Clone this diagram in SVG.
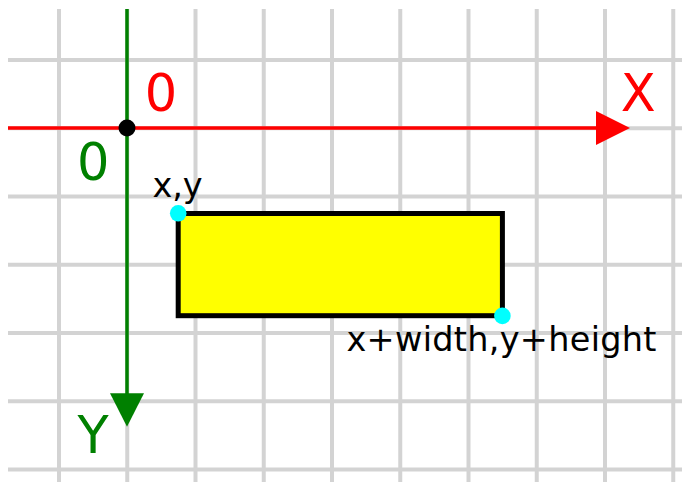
<svg xmlns="http://www.w3.org/2000/svg" width="682" height="482" viewBox="0 0 682 482">
  <style>
    .grid line { stroke: #d3d3d3; stroke-width: 4; }
    .big { font-family: "DejaVu Sans", "Liberation Sans", sans-serif; font-size: 51px; text-anchor: middle; }
    .small { font-family: "DejaVu Sans", "Liberation Sans", sans-serif; font-size: 33.5px; fill: #000; }
  </style>
  <rect x="0" y="0" width="682" height="482" fill="#ffffff"/>
  <g id="grid" class="grid">
    <line x1="59" y1="9" x2="59" y2="482"/>
    <line x1="127.25" y1="9" x2="127.25" y2="482"/>
    <line x1="195.5" y1="9" x2="195.5" y2="482"/>
    <line x1="263.75" y1="9" x2="263.75" y2="482"/>
    <line x1="332" y1="9" x2="332" y2="482"/>
    <line x1="400.25" y1="9" x2="400.25" y2="482"/>
    <line x1="468.5" y1="9" x2="468.5" y2="482"/>
    <line x1="536.75" y1="9" x2="536.75" y2="482"/>
    <line x1="605" y1="9" x2="605" y2="482"/>
    <line x1="673.25" y1="9" x2="673.25" y2="482"/>
    <line x1="8" y1="60" x2="682" y2="60"/>
    <line x1="8" y1="128.25" x2="682" y2="128.25"/>
    <line x1="8" y1="196.5" x2="682" y2="196.5"/>
    <line x1="8" y1="264.75" x2="682" y2="264.75"/>
    <line x1="8" y1="333" x2="682" y2="333"/>
    <line x1="8" y1="401.25" x2="682" y2="401.25"/>
    <line x1="8" y1="469.5" x2="682" y2="469.5"/>
  </g>
  <g id="connectors">
    <g id="x-axis">
      <line x1="8" y1="128" x2="600" y2="128" stroke="#ff0000" stroke-width="3.5"/>
      <polygon points="596,111 630,128 596,145" fill="#ff0000"/>
    </g>
    <g id="y-axis">
      <line x1="127" y1="9" x2="127" y2="397" stroke="#008000" stroke-width="3.5"/>
      <polygon points="110,393.3 144,393.3 127,426.7" fill="#008000"/>
    </g>
  </g>
  <g id="origin">
    <circle cx="127" cy="128" r="8.5" fill="#000000"/>
    <text class="big" x="161" y="110.7" fill="#ff0000">0</text>
    <text class="big" x="93.3" y="180" fill="#008000">0</text>
  </g>
  <g id="x-label">
    <text class="big" x="638.3" y="111" fill="#ff0000">X</text>
  </g>
  <g id="y-label">
    <text class="big" x="93.2" y="452.7" fill="#008000">Y</text>
  </g>
  <g id="rectangle">
    <rect x="178.2" y="213.5" width="324.2" height="102.2" fill="#ffff00" stroke="#000000" stroke-width="5"/>
  </g>
  <g id="point-xy">
    <circle cx="178.2" cy="213.3" r="8.3" fill="#00ffff"/>
    <text class="small" x="152.5" y="197" textLength="50" lengthAdjust="spacing">x,y</text>
  </g>
  <g id="point-end">
    <circle cx="502.4" cy="315.9" r="8.3" fill="#00ffff"/>
    <text class="small" x="346.5" y="351" textLength="310" lengthAdjust="spacing">x+width,y+height</text>
  </g>
</svg>
